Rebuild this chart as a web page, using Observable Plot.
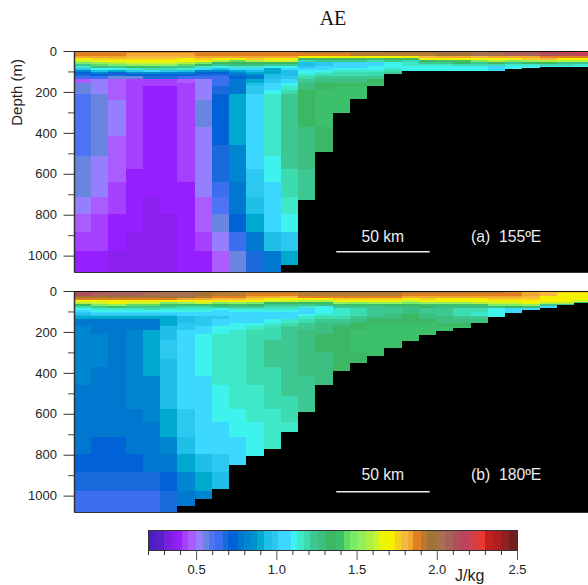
<!DOCTYPE html>
<html>
<head>
<meta charset="utf-8">
<script src="https://cdn.jsdelivr.net/npm/d3@7"></script>
<script src="https://cdn.jsdelivr.net/npm/@observablehq/plot@0.6"></script>
<style>
html,body{margin:0;padding:0;background:#fff;overflow:hidden}
#wrap{position:relative;width:588px;height:585px;font-family:"Liberation Sans",Arial,sans-serif}
#wrap>div.p{position:absolute;left:0}
#title{position:absolute;left:0;width:666px;text-align:center;top:7px;font:20px "Liberation Serif",serif;color:#111}
#unit{position:absolute;left:455px;top:567px;font-size:16px;color:#222}
svg{display:block}
</style>
</head>
<body>
<div id="wrap">
  <div id="title">AE</div>
  <div class="p" id="a" style="top:0"></div>
  <div class="p" id="b" style="top:240px"></div>
  <div class="p" id="c" style="top:520px"></div>
  <div id="unit">J/kg</div>
</div>
<script>
// Colour classes of the colour bar (J/kg)
const thresholds=[.25,.30,.35,.38,.41,.45,.50,.54,.58,.62,.67,.70,.76,.80,.84,.88,.92,.97,1.01,1.09,1.13,1.17,1.21,1.26,1.31,1.37,1.42,1.46,1.51,1.56,1.61,1.64,1.69,1.74,1.78,1.82,1.85,1.90,1.94,2.00,2.05,2.10,2.15,2.20,2.25,2.30,2.35,2.40,2.45];
const colours=["#4a1fc8","#5a20c8","#7a1fe0","#8a1ff0","#951fff","#a640ff","#ab5cff","#9480ff","#6a85e0","#4d74f5","#3b6ff0","#1a6adc","#0062d6","#0078d0","#0085d0","#0090cc","#00aacf","#20bfe8","#2cc8f0","#3cd8ff","#3ef2ee","#3ee8c8","#3cdcb0","#3cc890","#3cbf80","#3cb864","#3cc06a","#60dc66","#78ec66","#90f060","#b0f040","#c8f530","#eef500","#f5f000","#f5d020","#f5b840","#f0a830","#e08020","#b87a30","#a07438","#a87050","#a86058","#b0505a","#c04060","#d04048","#e83830","#c02020","#b01f20","#902020","#701f1f"];
// Model layer edges (m)
const depthEdges=[0,12,24,34,44,54,64,73,83,93,103,112,122,137,156,171,191,210,240,269,298,333,372,416,460,513,577,641,714,797,885,978,1080];
// Sea-floor depth per station (m)
const seabedA=[1080,1080,1080,1080,1080,1080,1080,1080,1080,1080,1080,1080,1046,729,494,303,235,171,112,96,96,96,96,96,96,88,83,78,78,78];
const seabedB=[1080,1080,1080,1080,1080,1080,1051,1017,968,851,807,773,689,592,460,391,352,318,279,244,215,196,181,156,127,108,93,83,68,59];
// Station profiles, surface to bottom (J/kg)
const sectionA=[
[1.87,1.87,1.83,1.71,1.62,1.48,1.23,1.15,.99,.82,.73,.68,.64,.47,.56,.56,.56,.6,.6,.6,.6,.6,.6,.6,.6,.56,.56,.56,.52,.47,.43,.4],
[1.87,1.87,1.83,1.76,1.66,1.53,1.44,1.28,1.11,.94,.82,.73,.64,.52,.52,.52,.52,.56,.56,.56,.56,.56,.56,.56,.56,.52,.52,.52,.47,.43,.43,.4],
[1.87,1.87,1.83,1.76,1.66,1.58,1.48,1.23,1.11,.9,.73,.68,.56,.47,.47,.47,.47,.47,.52,.52,.52,.52,.52,.47,.47,.47,.47,.43,.43,.4,.4,.36],
[1.87,1.83,1.8,1.76,1.71,1.62,1.53,1.39,1.15,.99,.82,.73,.56,.43,.43,.43,.43,.43,.43,.43,.43,.43,.43,.43,.43,.43,.4,.4,.4,.4,.36,.36],
[1.87,1.83,1.8,1.76,1.71,1.62,1.53,1.39,1.19,1.05,.86,.73,.68,.43,.43,.4,.4,.4,.4,.4,.4,.4,.4,.4,.4,.4,.4,.4,.36,.36,.36,.36],
[1.87,1.83,1.8,1.76,1.71,1.62,1.53,1.23,1.19,.99,.82,.73,.68,.43,.43,.4,.4,.4,.4,.4,.4,.4,.4,.4,.4,.4,.4,.4,.4,.36,.36,.36],
[1.87,1.83,1.8,1.71,1.66,1.58,1.44,1.23,1.15,.94,.82,.73,.64,.47,.43,.43,.43,.43,.43,.43,.43,.43,.43,.43,.43,.43,.43,.4,.4,.4,.4,.4],
[1.87,1.87,1.83,1.76,1.71,1.48,1.34,1.15,1.05,.82,.73,.68,.64,.52,.52,.52,.52,.52,.56,.56,.56,.56,.52,.52,.52,.52,.52,.52,.47,.47,.43,.4],
[1.87,1.87,1.83,1.71,1.58,1.34,1.23,1.11,.94,.82,.73,.68,.64,.64,.64,.68,.68,.73,.73,.73,.73,.73,.73,.73,.68,.68,.68,.64,.6,.56,.52,.47],
[1.87,1.87,1.83,1.71,1.44,1.34,1.28,1.15,1.05,.9,.82,.78,.73,.78,.78,.78,.78,.9,.9,.9,.9,.9,.9,.9,.82,.82,.82,.78,.78,.73,.64,.56],
[1.87,1.87,1.83,1.76,1.58,1.34,1.28,1.15,1.05,.94,.9,.82,.78,.9,.94,.99,.99,1.05,1.05,1.05,1.05,1.05,1.05,1.05,1.05,1.05,.99,.99,.94,.9,.78,.68],
[1.87,1.87,1.83,1.71,1.62,1.34,1.23,1.11,.9,.9,.9,.94,.94,.99,1.05,1.05,1.11,1.15,1.15,1.15,1.15,1.15,1.15,1.15,1.15,1.11,1.11,1.05,1.05,1.05,.94,.78],
[1.87,1.87,1.83,1.71,1.62,1.34,1.23,1.11,1.05,.94,.94,.94,.99,1.05,1.11,1.15,1.19,1.23,1.23,1.23,1.23,1.23,1.23,1.23,1.23,1.23,1.19,1.19,1.15,1.11,.99,.9],
[1.92,1.87,1.71,1.34,1.19,.94,.94,.99,1.05,1.11,1.11,1.15,1.19,1.23,1.28,1.28,1.34,1.34,1.34,1.34,1.34,1.34,1.28,1.28,1.28,1.28,1.23,1.23,1.23],
[1.92,1.87,1.71,1.34,1.23,.99,.99,1.05,1.05,1.11,1.15,1.19,1.23,1.28,1.34,1.34,1.39,1.39,1.39,1.39,1.39,1.39,1.34,1.34,1.34],
[1.92,1.87,1.71,1.34,1.23,1.05,1.05,1.05,1.11,1.15,1.19,1.19,1.23,1.28,1.34,1.39,1.39,1.39,1.39,1.39,1.39],
[1.92,1.92,1.71,1.34,1.23,1.05,1.05,1.05,1.11,1.15,1.19,1.19,1.23,1.28,1.34,1.39,1.39,1.39],
[1.92,1.92,1.71,1.39,1.19,1.05,1.05,1.11,1.11,1.15,1.19,1.19,1.23,1.34,1.39],
[1.97,1.92,1.71,1.34,1.23,1.11,1.11,1.11,1.15,1.19,1.23],
[1.97,1.92,1.71,1.34,1.19,1.15,1.15,1.11,1.11,1.11],
[1.97,1.92,1.8,1.71,1.34,1.23,1.15,1.11,1.11,1.11],
[2.02,1.97,1.83,1.71,1.39,1.23,1.15,1.11,1.11,1.11],
[2.02,1.97,1.83,1.71,1.39,1.34,1.19,1.11,1.11,1.11],
[2.02,2.02,1.8,1.71,1.48,1.23,1.19,1.11,1.11,1.11],
[2.07,2.02,1.83,1.71,1.58,1.34,1.19,1.05,1.05,1.05],
[2.12,2.07,1.83,1.71,1.48,1.23,1.15,1.11,1.11],
[2.12,2.07,1.83,1.76,1.53,1.34,1.15,1.11],
[2.17,2.12,1.87,1.8,1.58,1.34,1.19,1.11],
[2.22,2.12,1.87,1.71,1.58,1.23,1.19,1.11],
[2.22,2.17,1.87,1.71,1.58,1.23,1.15,1.11]
];
const sectionB=[
[2.12,2.12,1.97,1.87,1.71,1.58,1.34,1.19,1.11,1.05,.99,.94,.9,.78,.78,.82,.82,.82,.82,.82,.82,.82,.82,.82,.78,.78,.78,.78,.78,.73,.68,.64],
[2.12,2.07,1.97,1.87,1.71,1.62,1.48,1.23,1.15,1.11,1.05,.99,.9,.78,.78,.78,.78,.82,.82,.82,.82,.82,.78,.78,.78,.78,.78,.78,.73,.73,.68,.64],
[2.07,2.07,1.97,1.87,1.71,1.66,1.53,1.39,1.15,1.11,1.05,.99,.9,.78,.78,.78,.78,.78,.78,.78,.78,.78,.78,.78,.78,.78,.78,.78,.73,.73,.68,.64],
[2.07,2.07,1.97,1.87,1.71,1.62,1.44,1.23,1.15,1.11,1.05,.99,.9,.78,.78,.78,.82,.82,.82,.82,.82,.82,.82,.82,.82,.82,.78,.78,.78,.73,.68,.64],
[2.07,2.02,1.97,1.87,1.71,1.62,1.44,1.23,1.19,1.11,1.05,.99,.9,.78,.78,.78,.9,.9,.9,.9,.9,.9,.9,.82,.82,.82,.82,.78,.78,.78,.68,.64],
[2.02,2.02,1.97,1.87,1.71,1.48,1.39,1.23,1.15,1.11,1.05,.99,.9,.9,.9,.94,.94,.94,.99,.99,.99,.94,.94,.94,.94,.94,.9,.9,.82,.78,.73,.68],
[2.02,2.02,1.97,1.83,1.71,1.53,1.39,1.19,1.15,1.11,1.05,1.05,.94,.94,.99,.99,1.05,1.05,1.05,1.05,1.05,1.05,1.05,1.05,1.05,1.05,.99,.99,.94,.9,.82,.78],
[1.97,1.97,1.92,1.83,1.71,1.62,1.39,1.19,1.15,1.11,1.05,1.05,.99,.99,.99,1.05,1.05,1.11,1.11,1.11,1.11,1.11,1.11,1.05,1.05,1.05,1.05,1.05,1.05,.94,.9,.82],
[1.97,1.92,1.87,1.8,1.71,1.48,1.34,1.23,1.11,1.05,1.05,1.05,.99,1.05,1.05,1.11,1.11,1.15,1.15,1.15,1.15,1.15,1.15,1.15,1.11,1.11,1.11,1.05,1.05,.99,.94],
[1.92,1.92,1.87,1.8,1.71,1.53,1.39,1.23,1.15,1.11,1.05,1.05,1.05,1.05,1.11,1.11,1.15,1.15,1.15,1.15,1.15,1.15,1.15,1.15,1.15,1.15,1.11,1.11,1.05,1.05],
[1.92,1.87,1.83,1.76,1.71,1.48,1.34,1.23,1.15,1.11,1.05,1.05,1.05,1.05,1.11,1.15,1.19,1.19,1.19,1.19,1.19,1.19,1.19,1.19,1.15,1.15,1.15,1.11,1.11,1.11],
[1.92,1.87,1.83,1.71,1.62,1.34,1.23,1.19,1.15,1.11,1.05,1.05,1.05,1.11,1.15,1.19,1.19,1.19,1.23,1.23,1.23,1.23,1.19,1.19,1.19,1.19,1.15,1.15,1.15],
[1.92,1.87,1.8,1.71,1.62,1.34,1.23,1.19,1.15,1.11,1.05,1.05,1.05,1.15,1.19,1.23,1.23,1.23,1.23,1.23,1.23,1.23,1.23,1.23,1.23,1.19,1.19,1.15],
[1.92,1.92,1.87,1.71,1.58,1.34,1.23,1.15,1.05,1.05,1.05,1.11,1.15,1.19,1.23,1.23,1.28,1.28,1.28,1.28,1.28,1.28,1.28,1.23,1.23,1.23,1.23],
[1.97,1.92,1.87,1.71,1.58,1.39,1.28,1.11,1.11,1.11,1.11,1.15,1.19,1.23,1.28,1.28,1.28,1.34,1.34,1.34,1.28,1.28,1.28,1.28],
[1.97,1.92,1.87,1.76,1.66,1.53,1.39,1.23,1.15,1.15,1.15,1.15,1.19,1.23,1.28,1.34,1.34,1.34,1.34,1.34,1.34,1.34,1.34],
[1.97,1.92,1.87,1.76,1.66,1.48,1.39,1.23,1.19,1.19,1.19,1.19,1.23,1.28,1.34,1.34,1.39,1.39,1.39,1.39,1.34,1.34],
[1.97,1.92,1.87,1.76,1.66,1.53,1.39,1.23,1.23,1.23,1.23,1.23,1.28,1.34,1.39,1.39,1.39,1.39,1.39,1.39,1.39],
[1.97,1.92,1.87,1.76,1.66,1.53,1.34,1.28,1.23,1.23,1.23,1.28,1.28,1.34,1.39,1.39,1.39,1.39,1.39,1.39],
[1.97,1.87,1.83,1.71,1.62,1.48,1.34,1.28,1.28,1.28,1.28,1.34,1.34,1.34,1.39,1.39,1.39,1.39,1.39],
[1.97,1.87,1.83,1.76,1.66,1.53,1.39,1.34,1.23,1.23,1.23,1.28,1.28,1.34,1.39,1.39,1.39,1.39],
[1.97,1.87,1.83,1.71,1.66,1.53,1.39,1.28,1.23,1.23,1.23,1.23,1.28,1.28,1.34,1.39,1.39],
[1.97,1.87,1.83,1.71,1.66,1.53,1.39,1.28,1.19,1.19,1.19,1.19,1.23,1.28,1.34,1.39],
[1.92,1.87,1.83,1.71,1.66,1.58,1.39,1.28,1.19,1.19,1.15,1.15,1.23,1.28],
[1.92,1.87,1.83,1.76,1.66,1.62,1.48,1.28,1.11,1.11,1.11,1.11,1.11],
[1.87,1.87,1.83,1.76,1.71,1.62,1.48,1.34,1.05,1.05,1.05],
[1.83,1.83,1.8,1.76,1.71,1.66,1.53,1.39,1.05],
[1.8,1.8,1.71,1.71,1.71,1.58,1.23,1.05],
[1.76,1.71,1.71,1.71,1.66,1.58,1.23],
[1.76,1.71,1.71,1.66,1.62,1.34]
];
const depthTicks=[0,200,400,600,800,1000];
const depthMinor=[100,300,500,700,900];
const barTicks=[.5,1,1.5,2,2.5];
const barMinor=[.2,.3,.4,.6,.7,.8,.9,1.1,1.2,1.3,1.4,1.6,1.7,1.8,1.9,2.1,2.2,2.3,2.4];
const barEdges=[.2,...thresholds,2.5];
const stationSpan=29.81, maxDepth=1080;
const colorScale={type:"threshold",domain:thresholds,range:colours};
const font={fontFamily:"'Liberation Sans',Arial,sans-serif",fontSize:"13px",color:"#222",background:"transparent"};

function section(profiles,seabed,label,depthLabel,textDepth){
  const cells=profiles.flatMap((p,i)=>p.map((v,j)=>({x1:i,x2:i+1,y1:depthEdges[j],y2:depthEdges[j+1],v})));
  const floor=seabed.map((d,i)=>({x1:i,x2:i+1,y1:d,y2:maxDepth})).filter(d=>d.y1<maxDepth);
  return Plot.plot({
    width:588,height:280,marginLeft:74,marginRight:0,marginTop:51,marginBottom:8,
    style:font,
    x:{domain:[0,stationSpan],axis:null},
    y:{domain:[0,maxDepth],reverse:true,axis:null},
    color:colorScale,
    marks:[
      Plot.frame({fill:"black",stroke:null}),
      Plot.rect(cells,{x1:"x1",x2:"x2",y1:"y1",y2:"y2",fill:"v",clip:true,shapeRendering:"crispEdges"}),
      Plot.rect(floor,{x1:"x1",x2:"x2",y1:"y1",y2:"y2",fill:"black",clip:true,shapeRendering:"crispEdges"}),
      Plot.ruleY([0],{stroke:"#111",strokeWidth:1}),
      Plot.ruleY([maxDepth],{stroke:"#333",strokeWidth:1}),
      Plot.ruleX([0],{stroke:"#333",strokeWidth:1.5}),
      Plot.axisY(depthTicks,{anchor:"left",tickSize:10.5,tickPadding:7,stroke:"#333",fill:"#222",tickFormat:d=>String(d),label:null}),
      Plot.axisY(depthMinor,{anchor:"left",tickSize:6,stroke:"#444",tickFormat:()=>"",label:null}),
      depthLabel?Plot.text([depthLabel],{x:-3.3,y:200,rotate:-90,fill:"#222",fontSize:15,clip:false}):null,
      Plot.ruleY([978],{x1:15.21,x2:20.63,stroke:"#eee",strokeWidth:1.5}),
      Plot.text(["50 km"],{x:17.88,y:textDepth,fill:"#eee",fontSize:15.7,lineAnchor:"bottom"}),
      Plot.text([label],{x:23,y:textDepth,fill:"#eee",fontSize:15.7,textAnchor:"start",lineAnchor:"bottom"})
    ]
  });
}
document.getElementById("a").appendChild(section(sectionA,seabedA,"(a)\u00a0\u00a0155ºE","Depth (m)",932));
document.getElementById("b").appendChild(section(sectionB,seabedB,"(b)\u00a0\u00a0180ºE",null,919));

const bins=barEdges.slice(0,-1).map((e,i)=>({x1:e,x2:barEdges[i+1],v:e+1e-6}));
document.getElementById("c").appendChild(Plot.plot({
  width:588,height:65,marginLeft:148,marginRight:71,marginTop:10,marginBottom:35,
  style:font,
  x:{domain:[.2,2.5],axis:null},
  y:{domain:[0,1],axis:null},
  color:colorScale,
  marks:[
    Plot.rect(bins,{x1:"x1",x2:"x2",y1:0,y2:1,fill:"v",shapeRendering:"crispEdges"}),
    Plot.frame({stroke:"#333",strokeWidth:1}),
    Plot.axisX(barTicks,{anchor:"bottom",tickSize:10,tickPadding:4,stroke:"#555",fill:"#222",tickFormat:d3.format(".1f"),label:null}),
    Plot.axisX(barMinor,{anchor:"bottom",tickSize:5,stroke:"#333",tickFormat:()=>"",label:null})
  ]
}));
</script>
</body>
</html>
